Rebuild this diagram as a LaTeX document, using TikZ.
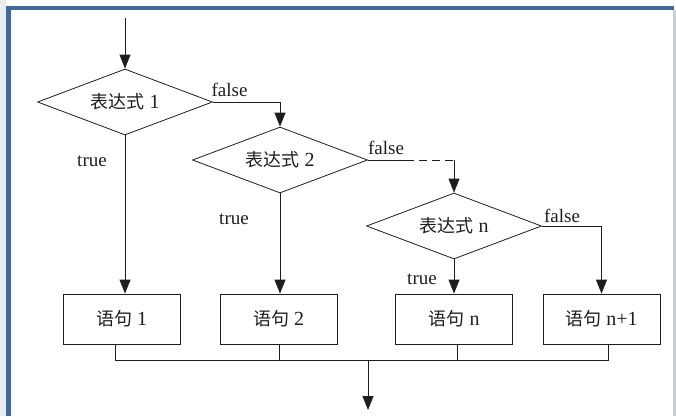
\documentclass[tikz,border=0pt]{standalone}
\usepackage{fontspec}
\setmainfont{Liberation Serif}
\newfontfamily\cjk{Noto Sans CJK SC}
\usetikzlibrary{shapes.geometric,arrows.meta}
\definecolor{frameblue}{HTML}{41699A}
\definecolor{framegrey}{HTML}{E9ECF0}
\definecolor{edgegrey}{HTML}{C9CED6}
\definecolor{ink}{HTML}{1E1E1E}
\newcommand{\zh}[1]{{\cjk\fontsize{18}{18}\selectfont #1}}
\begin{document}
\begin{tikzpicture}[x=1pt,y=-1pt,
  line width=0.8pt,
  dec/.style={diamond, draw=ink, minimum width=175pt, minimum height=66pt, aspect=2.65, inner sep=0pt, text=ink, font=\fontsize{20}{20}\selectfont},
  stmt/.style={rectangle, draw=ink, minimum width=117pt, minimum height=50pt, inner sep=0pt, text=ink, font=\fontsize{20}{20}\selectfont},
  arr/.style={draw=ink, -{Triangle[width=11pt,length=14pt]}},
  wire/.style={draw=ink},
  lbl/.style={inner sep=0pt, text=ink, font=\fontsize{19}{19}\selectfont}]
\useasboundingbox (0,0) rectangle (676,416);
% window frame
\fill[framegrey] (0,0) rectangle (6,416);
\fill[frameblue] (6,6) rectangle (674,10);
\fill[frameblue] (6,6) rectangle (11,416);
\fill[edgegrey] (673,10) rectangle (676,416);
% decisions
\node[dec] (d1) at (125,102) {\zh{表达式} 1};
\node[dec] (d2) at (280,160) {\zh{表达式} 2};
\node[dec] (dn) at (454,226) {\zh{表达式} n};
% statements
\node[stmt] (b1) at (121.5,319) {\zh{语句} 1};
\node[stmt] (b2) at (278.5,319) {\zh{语句} 2};
\node[stmt] (bn) at (454,319) {\zh{语句} n};
\node[stmt] (bn1) at (601.5,319) {\zh{语句} n+1};
% labels
\node[lbl] (f1) at (229.5,90) {false};
\node[lbl] (f2) at (386,148) {false};
\node[lbl] (fn) at (562,216) {false};
\node[lbl] (t1) at (92,161) {true};
\node[lbl] (t2) at (234,219) {true};
\node[lbl] (tn) at (422,279) {true};
% coordinates
\coordinate (start) at (125,18);
\coordinate (dashstart) at (406,160);
\coordinate (j1) at (115,360);
\coordinate (j2) at (279,360);
\coordinate (jn) at (457,360);
\coordinate (jn1) at (608,360);
\coordinate (jm) at (368,360);
\coordinate (out) at (368,410);
% connectors
\draw[arr] (start) -- (d1.north);
\draw[arr] (d1.east) -| (d2.north);
\draw[wire] (d2.east) -- (dashstart);
\draw[wire, dash pattern=on 8pt off 5pt] (dashstart) -- (dn.north |- dashstart);
\draw[arr] (dn.north |- dashstart) -- (dn.north);
\draw[arr] (dn.east) -| (bn1.north);
\draw[arr] (d1.south) -- (d1.south |- b1.north);
\draw[arr] (d2.south) -- (d2.south |- b2.north);
\draw[arr] (dn.south) -- (dn.south |- bn.north);
\draw[wire] (b1.south -| j1) -- (j1) -- (jn1) -- (bn1.south -| jn1);
\draw[wire] (b2.south -| j2) -- (j2);
\draw[wire] (bn.south -| jn) -- (jn);
\draw[arr] (jm) -- (out);
\end{tikzpicture}
\end{document}
